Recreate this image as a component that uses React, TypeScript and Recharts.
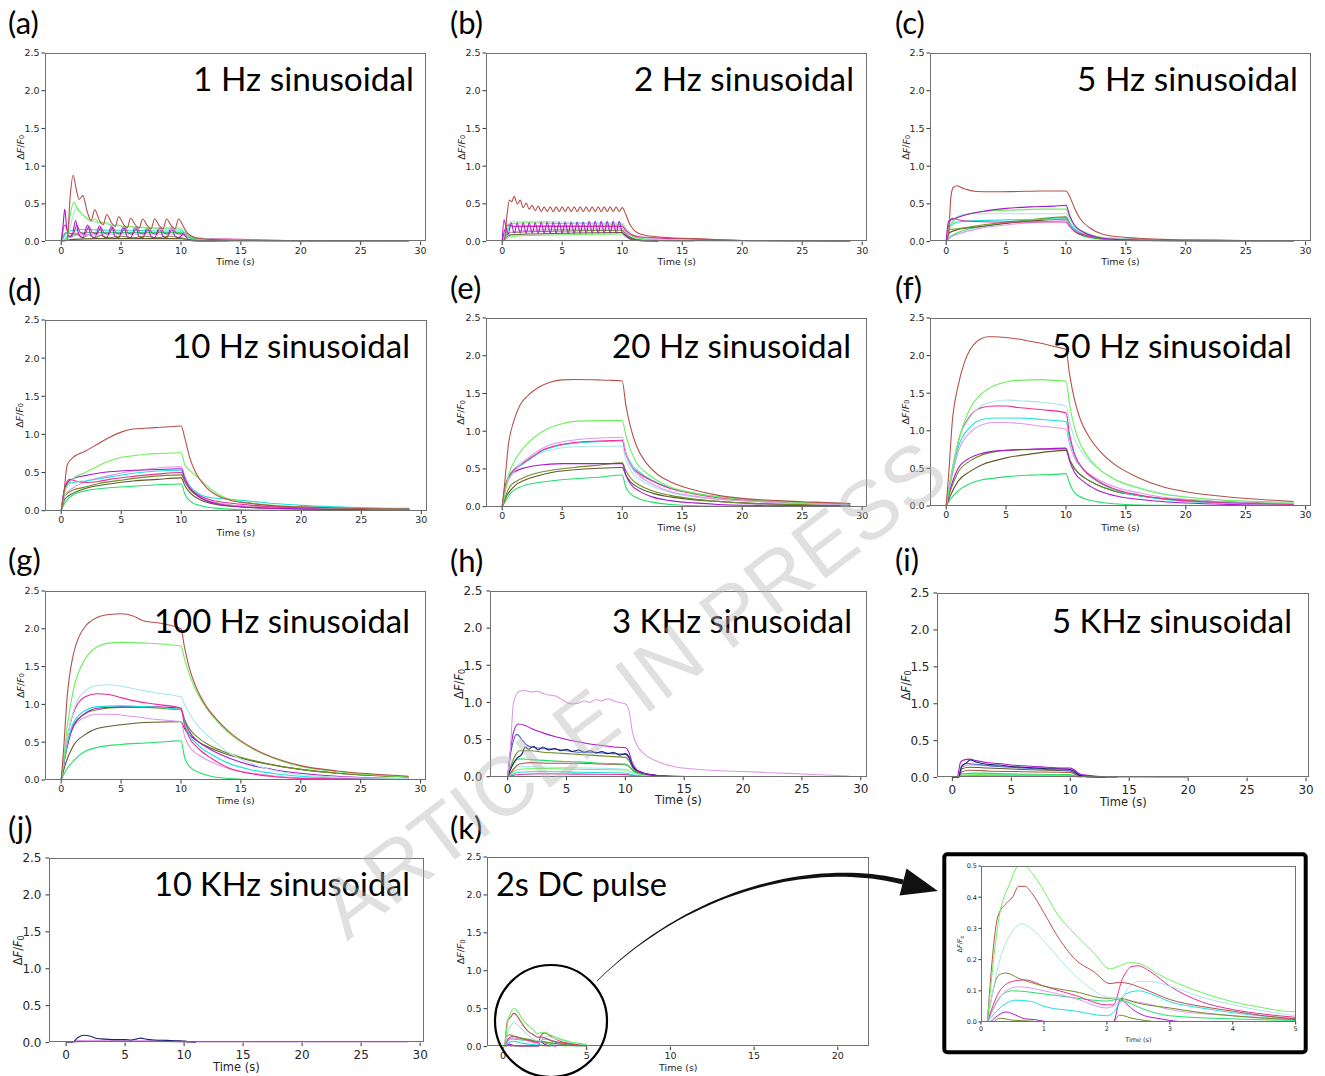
import React from "react";
import { LineChart, Line, XAxis, YAxis } from "recharts";

const C = {
  brown: "#b5504a",
  lgreen: "#6cf05a",
  pturq: "#a8e6e6",
  pink: "#f02a96",
  plum: "#de98e8",
  cyan: "#1ae2da",
  olive: "#6f8c24",
  dolive: "#5e5a2c",
  purple: "#a818d0",
  spring: "#22e06a",
  navy: "#1c2468",
  royal: "#4a66d0",
};

const X_TICKS = [0, 5, 10, 15, 20, 25, 30];
const K_TICKS = [0, 5, 10, 15, 20];
const IN_TICKS = [0, 1, 2, 3, 4, 5];
const Y_TICKS = [0, 0.5, 1, 1.5, 2, 2.5];
const IN_YTICKS = [0, 0.1, 0.2, 0.3, 0.4, 0.5];

// ---------- (a) 1 Hz ----------
const aBrown = [[0,0],[0.5,0.02],[0.75,0.6],[1,0.88],[1.25,0.7],[1.5,0.56],[1.8,0.61],[2.2,0.38],[2.5,0.28],[2.8,0.42],[3.2,0.28],[3.5,0.22],[3.8,0.36],[4.2,0.25],[4.5,0.2],[4.8,0.33],[5.2,0.23],[5.5,0.18],[5.8,0.31],[6.2,0.22],[6.5,0.18],[6.8,0.3],[7.2,0.21],[7.5,0.17],[7.8,0.3],[8.2,0.21],[8.5,0.17],[8.8,0.3],[9.2,0.21],[9.5,0.17],[9.8,0.3],[10.2,0.2],[10.5,0.12],[11,0.06],[11.5,0.04],[12.5,0.03],[14,0.02],[17,0.01],[20,0.005],[25,0.002],[29,0]];
const aLgreen = [[0,0],[0.5,0.05],[0.75,0.35],[1.05,0.52],[1.4,0.42],[1.8,0.36],[2.2,0.3],[2.5,0.27],[2.8,0.3],[3.2,0.25],[3.8,0.25],[4.2,0.21],[4.8,0.22],[5.2,0.19],[5.8,0.2],[6.2,0.18],[6.8,0.19],[7.2,0.17],[7.8,0.18],[8.2,0.16],[8.8,0.17],[9.2,0.16],[9.8,0.17],[10.3,0.12],[10.8,0.06],[11.5,0.03],[14,0.01],[29,0]];
const aPturq = [[0,0],[0.6,0.1],[1,0.35],[1.3,0.45],[1.8,0.35],[2.5,0.28],[3.5,0.24],[5,0.21],[7,0.19],[10,0.18],[10.5,0.12],[11,0.07],[12,0.04],[15,0.02],[20,0.01],[29,0]];
const aPurple = [[0,0],[0.15,0.2],[0.3,0.43],[0.45,0.2],[0.7,0.06],[0.95,0.1],[1.2,0.28],[1.45,0.1],[1.8,0.05],[2.2,0.22],[2.5,0.08],[2.8,0.05],[3.2,0.21],[3.5,0.07],[3.8,0.05],[4.2,0.2],[4.5,0.07],[4.8,0.05],[5.2,0.2],[5.5,0.07],[5.8,0.05],[6.2,0.2],[6.5,0.07],[6.8,0.05],[7.2,0.19],[7.5,0.07],[7.8,0.05],[8.2,0.19],[8.5,0.07],[8.8,0.05],[9.2,0.19],[9.5,0.07],[9.8,0.05],[10.2,0.1],[10.6,0.03],[11.5,0.01],[14,0.01],[20,0.005],[29,0]];
const aPink = [[0,0],[0.3,0.22],[0.6,0.12],[1,0.1],[1.3,0.22],[1.6,0.12],[2,0.1],[2.3,0.2],[2.6,0.12],[3,0.1],[3.3,0.19],[3.6,0.11],[4,0.1],[4.3,0.19],[4.6,0.11],[5,0.1],[5.3,0.19],[5.6,0.11],[6,0.1],[6.3,0.19],[6.6,0.11],[7,0.1],[7.3,0.19],[7.6,0.11],[8,0.1],[8.3,0.19],[8.6,0.11],[9,0.1],[9.3,0.19],[9.6,0.11],[10,0.1],[10.3,0.12],[10.8,0.06],[12,0.04],[15,0.03],[20,0.01],[29,0]];
const aCyan = [[0,0],[0.5,0.12],[1,0.15],[2,0.16],[4,0.15],[6,0.15],[8,0.14],[10,0.14],[10.5,0.08],[11.5,0.03],[14,0.01],[29,0]];
const aSpring = [[0,0],[0.5,0.05],[1,0.1],[2,0.12],[4,0.12],[7,0.12],[10,0.12],[10.5,0.06],[11.5,0.02],[14,0]];
const aOlive = [[0,0],[0.4,0.12],[0.8,0.06],[1.3,0.1],[1.8,0.05],[2.3,0.09],[2.8,0.05],[3.3,0.08],[4,0.05],[5,0.07],[6,0.05],[7,0.07],[8,0.05],[9,0.07],[10,0.05],[11,0.01],[14,0]];
const aPlum = [[0,0],[0.5,0.05],[1,0.08],[3,0.1],[6,0.1],[10,0.1],[10.5,0.06],[12,0.04],[16,0.02],[22,0.01],[29,0]];
const aDolive = [[0,0],[1,0.03],[3,0.04],[10,0.04],[11,0.01],[13,0]];

// ---------- (b) 2 Hz ----------
const bBrown = [[0,0],[0.2,0.03],[0.4,0.35],[0.6,0.55],[0.8,0.53],[1,0.6],[1.25,0.5],[1.5,0.55],[1.75,0.45],[2,0.51],[2.25,0.43],[2.5,0.48],[2.75,0.41],[3,0.47],[3.25,0.4],[3.5,0.46],[3.75,0.4],[4,0.46],[4.25,0.4],[4.5,0.46],[4.75,0.4],[5,0.46],[5.25,0.4],[5.5,0.46],[5.75,0.4],[6,0.46],[6.25,0.4],[6.5,0.46],[6.75,0.4],[7,0.46],[7.25,0.4],[7.5,0.46],[7.75,0.4],[8,0.46],[8.25,0.4],[8.5,0.46],[8.75,0.4],[9,0.46],[9.25,0.4],[9.5,0.46],[9.75,0.4],[10,0.45],[10.3,0.36],[10.6,0.24],[11,0.15],[11.5,0.1],[12.5,0.07],[14,0.05],[16,0.04],[18,0.025],[20,0.015],[25,0.005],[29,0]];
const bPurple = [[0,0],[0.15,0.29],[0.3,0.2],[0.5,0.1],[0.75,0.25],[1,0.11],[1.25,0.25],[1.5,0.11],[1.75,0.25],[2,0.11],[2.25,0.25],[2.5,0.11],[2.75,0.25],[3,0.11],[3.25,0.26],[3.5,0.11],[3.75,0.26],[4,0.11],[4.25,0.26],[4.5,0.11],[4.75,0.26],[5,0.11],[5.25,0.26],[5.5,0.11],[5.75,0.26],[6,0.11],[6.25,0.26],[6.5,0.11],[6.75,0.26],[7,0.11],[7.25,0.27],[7.5,0.11],[7.75,0.27],[8,0.11],[8.25,0.27],[8.5,0.11],[8.75,0.27],[9,0.11],[9.25,0.27],[9.5,0.11],[9.75,0.27],[10,0.12],[10.3,0.08],[10.7,0.03],[11.5,0.01],[13,0]];
const bPink = [[0,0],[0.2,0.15],[0.5,0.22],[1,0.2],[2,0.2],[4,0.2],[6,0.2],[8,0.2],[10,0.2],[10.3,0.15],[10.8,0.09],[11.5,0.06],[12.5,0.05],[14,0.04],[16,0.035],[18,0.025],[20,0.015],[24,0.008],[29,0]];
const bPturq = [[0,0],[0.3,0.15],[0.7,0.27],[2,0.27],[5,0.26],[8,0.25],[10,0.25],[10.3,0.18],[10.8,0.1],[11.5,0.06],[13,0.04],[16,0.03],[20,0.015],[29,0.005]];
const bLgreen = [[0,0],[0.3,0.12],[0.7,0.24],[2,0.25],[5,0.24],[10,0.23],[10.3,0.16],[10.8,0.08],[11.5,0.04],[13,0.02],[16,0.01],[29,0]];
const bCyan = [[0,0],[0.3,0.1],[0.7,0.2],[2,0.21],[5,0.21],[10,0.21],[10.3,0.15],[10.8,0.08],[11.5,0.04],[13,0.02],[17,0.01],[29,0]];
const bOlive = [[0,0],[0.3,0.08],[0.7,0.12],[2,0.13],[5,0.14],[10,0.15],[10.3,0.1],[10.8,0.05],[11.5,0.02],[13,0.01],[16,0]];
const bDolive = [[0,0],[0.3,0.05],[0.7,0.09],[2,0.1],[5,0.11],[10,0.12],[10.3,0.08],[10.8,0.04],[11.5,0.02],[13,0]];
const bSpring = [[0,0],[0.3,0.03],[0.7,0.07],[2,0.08],[5,0.09],[10,0.1],[10.3,0.06],[10.8,0.03],[11.5,0.01],[13,0]];
const bPlum = [[0,0],[0.3,0.05],[0.7,0.12],[2,0.15],[5,0.16],[10,0.17],[10.3,0.12],[10.8,0.08],[11.5,0.06],[13,0.05],[15,0.04],[18,0.02],[22,0.01],[29,0]];

// ---------- (c) 5 Hz ----------
const cBrown = [[0,0],[0.2,0.1],[0.4,0.6],[0.6,0.72],[0.9,0.74],[1.5,0.7],[2.5,0.665],[4,0.66],[6,0.665],[8,0.67],[10,0.67],[10.3,0.6],[10.7,0.45],[11.2,0.3],[12,0.18],[13,0.1],[14,0.07],[16,0.045],[18,0.03],[20,0.02],[24,0.015],[29,0.01]];
const cPurple = [[0,0],[0.2,0.27],[0.6,0.3],[1.5,0.35],[3,0.4],[5,0.44],[7,0.46],[9,0.47],[10,0.48],[10.3,0.35],[10.7,0.22],[11.5,0.12],[12.5,0.06],[14,0.03],[17,0.02],[22,0.01],[29,0.01]];
const cLgreen = [[0,0],[0.3,0.18],[0.8,0.3],[2,0.37],[4,0.41],[6,0.42],[8,0.43],[10,0.43],[10.3,0.33],[10.7,0.22],[11.5,0.13],[12.5,0.07],[14,0.03],[17,0.02],[29,0]];
const cPturq = [[0,0],[0.3,0.2],[1,0.34],[2,0.37],[4,0.37],[7,0.37],[10,0.37],[10.3,0.3],[10.7,0.2],[11.5,0.12],[13,0.06],[16,0.03],[20,0.02],[29,0.01]];
const cCyan = [[0,0],[0.3,0.2],[1,0.26],[3,0.28],[6,0.29],[10,0.3],[10.3,0.24],[10.7,0.17],[11.5,0.1],[13,0.05],[16,0.03],[22,0.01],[29,0]];
const cPink = [[0,0],[0.2,0.2],[0.5,0.31],[1,0.29],[2,0.27],[4,0.26],[7,0.26],[10,0.26],[10.3,0.2],[10.7,0.14],[11.5,0.09],[13,0.05],[16,0.03],[20,0.02],[25,0.015],[29,0.01]];
const cOlive = [[0,0],[0.3,0.16],[1,0.17],[3,0.22],[5,0.26],[7,0.29],[10,0.33],[10.3,0.25],[10.7,0.16],[11.5,0.09],[13,0.04],[16,0.02],[29,0]];
const cSpring = [[0,0],[0.3,0.06],[1,0.12],[3,0.2],[5,0.25],[7,0.28],[10,0.32],[10.3,0.22],[10.7,0.14],[11.5,0.07],[13,0.03],[16,0.01],[29,0]];
const cPlum = [[0,0],[0.3,0.05],[1,0.1],[3,0.18],[5,0.22],[7,0.25],[10,0.28],[10.3,0.22],[10.7,0.15],[11.5,0.09],[13,0.05],[16,0.03],[20,0.02],[29,0.01]];
const cDolive = [[0,0],[0.3,0.12],[1,0.16],[3,0.2],[5,0.24],[7,0.27],[10,0.3],[10.3,0.22],[10.7,0.14],[11.5,0.08],[13,0.04],[16,0.02],[29,0]];

// ---------- (d) 10 Hz ----------
const dBrown = [[0,0],[0.2,0.2],[0.5,0.6],[1,0.7],[2,0.78],[3,0.87],[4,0.96],[5,1.03],[6,1.07],[7,1.08],[8,1.09],[9,1.1],[10,1.11],[10.3,0.95],[10.7,0.7],[11.2,0.5],[12,0.32],[13,0.2],[14,0.14],[16,0.09],[18,0.06],[20,0.05],[23,0.035],[26,0.025],[29,0.02]];
const dLgreen = [[0,0],[0.3,0.25],[1,0.42],[2,0.5],[3,0.58],[4,0.65],[5,0.7],[6,0.72],[7,0.74],[8,0.75],[10,0.76],[10.3,0.6],[10.7,0.53],[11.5,0.42],[12.5,0.28],[13.5,0.18],[15,0.12],[17,0.08],[20,0.05],[23,0.035],[26,0.025],[29,0.02]];
const dPurple = [[0,0],[0.3,0.3],[0.6,0.38],[1,0.42],[2,0.46],[4,0.51],[6,0.53],[8,0.54],[10,0.55],[10.3,0.42],[10.7,0.3],[11.5,0.18],[13,0.09],[15,0.05],[18,0.03],[22,0.02],[29,0.02]];
const dCyan = [[0,0],[0.3,0.28],[0.6,0.35],[1,0.37],[2,0.39],[4,0.44],[6,0.49],[8,0.52],[10,0.53],[10.3,0.42],[10.7,0.32],[11.5,0.22],[12.5,0.17],[14,0.15],[16,0.12],[18,0.09],[20,0.07],[23,0.05],[26,0.035],[29,0.03]];
const dPink = [[0,0],[0.3,0.3],[0.7,0.41],[1.2,0.39],[2,0.37],[3,0.38],[4,0.41],[6,0.45],[8,0.48],[10,0.5],[10.3,0.4],[10.7,0.3],[11.5,0.2],[12.5,0.14],[14,0.1],[16,0.07],[18,0.05],[22,0.04],[26,0.03],[29,0.02]];
const dPlum = [[0,0],[0.3,0.2],[1,0.3],[2,0.38],[4,0.46],[6,0.52],[8,0.56],[10,0.58],[10.3,0.45],[10.7,0.33],[11.5,0.2],[13,0.1],[15,0.06],[18,0.04],[22,0.03],[29,0.02]];
const dOlive = [[0,0],[0.3,0.2],[1,0.27],[2,0.31],[3,0.35],[5,0.4],[7,0.44],[10,0.47],[10.3,0.38],[10.7,0.28],[11.5,0.18],[13,0.1],[15,0.06],[18,0.04],[22,0.03],[29,0.02]];
const dDolive = [[0,0],[0.3,0.15],[1,0.23],[2,0.29],[4,0.35],[6,0.39],[8,0.41],[10,0.43],[10.3,0.33],[10.7,0.24],[11.5,0.15],[13,0.08],[15,0.05],[18,0.03],[29,0.01]];
const dSpring = [[0,0],[0.3,0.1],[0.6,0.16],[1,0.21],[2,0.26],[4,0.3],[6,0.32],[8,0.34],[10,0.35],[10.3,0.22],[10.7,0.13],[11.5,0.07],[13,0.03],[16,0.01],[29,0]];

// ---------- (e) 20 Hz ----------
const eBrown = [[0,0],[0.2,0.3],[0.5,0.8],[1,1.15],[1.5,1.35],[2,1.45],[3,1.58],[4,1.65],[5,1.68],[6,1.685],[8,1.68],[9,1.675],[10,1.665],[10.3,1.35],[10.7,1.05],[11.2,0.8],[12,0.58],[13,0.42],[14,0.33],[16,0.22],[18,0.15],[20,0.11],[23,0.08],[26,0.06],[29,0.04]];
const eLgreen = [[0,0],[0.2,0.15],[0.5,0.4],[1,0.6],[2,0.82],[3,0.96],[4,1.05],[5,1.1],[6,1.13],[8,1.14],[10,1.14],[10.3,0.95],[10.7,0.75],[11.2,0.58],[12,0.45],[13,0.34],[14,0.26],[16,0.18],[18,0.13],[20,0.1],[23,0.07],[26,0.05],[29,0.04]];
const ePlum = [[0,0],[0.3,0.25],[1,0.47],[2,0.62],[3,0.74],[4,0.82],[5,0.86],[7,0.9],[10,0.92],[10.3,0.72],[10.7,0.55],[11.5,0.4],[12.5,0.3],[14,0.2],[16,0.14],[18,0.1],[20,0.08],[23,0.05],[26,0.04],[29,0.03]];
const ePink = [[0,0],[0.3,0.3],[0.7,0.44],[1.5,0.55],[2.5,0.66],[3.5,0.76],[4.5,0.81],[6,0.85],[8,0.87],[10,0.88],[10.3,0.7],[10.7,0.55],[11.5,0.43],[12.5,0.34],[14,0.24],[16,0.17],[18,0.12],[20,0.09],[23,0.07],[26,0.05],[29,0.04]];
const eCyan = [[0,0],[0.3,0.3],[0.7,0.43],[1.5,0.54],[2.5,0.65],[3.5,0.75],[4.5,0.8],[6,0.84],[8,0.86],[10,0.87],[10.3,0.72],[10.7,0.58],[11.5,0.45],[12.5,0.35],[14,0.25],[16,0.18],[18,0.13],[20,0.1],[23,0.07],[26,0.05],[29,0.03]];
const ePturq = [[0,0],[0.3,0.3],[1,0.5],[2,0.63],[3,0.7],[4,0.75],[5,0.78],[7,0.8],[10,0.8],[10.3,0.62],[10.7,0.48],[11.5,0.36],[12.5,0.27],[14,0.19],[16,0.13],[18,0.1],[20,0.08],[24,0.05],[29,0.03]];
const ePurple = [[0,0],[0.3,0.3],[0.7,0.42],[1,0.46],[2,0.52],[3,0.55],[5,0.57],[7,0.57],[10,0.57],[10.3,0.42],[10.7,0.3],[11.5,0.2],[12.5,0.13],[14,0.08],[16,0.05],[18,0.03],[20,0.02],[29,0.01]];
const eOlive = [[0,0],[0.3,0.15],[0.7,0.28],[1,0.32],[2,0.4],[3,0.45],[4,0.48],[6,0.52],[8,0.55],[10,0.58],[10.3,0.48],[10.7,0.38],[11.5,0.28],[12.5,0.21],[14,0.15],[16,0.1],[18,0.07],[20,0.05],[24,0.03],[29,0.02]];
const eDolive = [[0,0],[0.3,0.12],[1,0.27],[2,0.36],[3,0.41],[4,0.45],[6,0.49],[8,0.51],[10,0.52],[10.3,0.42],[10.7,0.33],[11.5,0.24],[12.5,0.18],[14,0.13],[16,0.09],[18,0.07],[20,0.05],[24,0.03],[29,0.02]];
const eSpring = [[0,0],[0.3,0.08],[0.7,0.18],[1,0.22],[2,0.29],[3,0.32],[4,0.34],[6,0.37],[8,0.39],[10,0.42],[10.3,0.26],[10.7,0.17],[11.5,0.1],[12.5,0.06],[14,0.03],[17,0.01],[29,0]];

// ---------- (f) 50 Hz ----------
const fBrown = [[0,0],[0.2,0.4],[0.5,1.1],[1,1.6],[1.5,1.9],[2,2.08],[2.5,2.18],[3,2.23],[3.5,2.25],[4,2.25],[5,2.24],[6,2.22],[7,2.19],[8,2.16],[9,2.12],[10,2.08],[10.3,1.75],[10.7,1.42],[11.2,1.15],[12,0.9],[13,0.7],[14,0.56],[16,0.38],[18,0.26],[20,0.19],[23,0.13],[26,0.09],[29,0.06]];
const fLgreen = [[0,0],[0.3,0.3],[1,0.85],[2,1.3],[3,1.5],[4,1.6],[5,1.65],[6,1.67],[8,1.68],[9,1.67],[10,1.66],[10.3,1.35],[10.7,1.05],[11.2,0.82],[12,0.62],[13,0.46],[14,0.36],[16,0.24],[18,0.16],[20,0.12],[23,0.08],[26,0.06],[29,0.05]];
const fPturq = [[0,0],[0.3,0.3],[1,0.85],[2,1.18],[3,1.34],[4,1.39],[5,1.41],[6,1.4],[8,1.38],[10,1.33],[10.3,1.12],[10.7,0.9],[11.5,0.68],[12.5,0.52],[14,0.36],[16,0.25],[18,0.17],[20,0.12],[23,0.08],[26,0.06],[29,0.04]];
const fPink = [[0,0],[0.3,0.3],[1,0.85],[2,1.2],[3,1.31],[4,1.33],[5,1.33],[6,1.31],[8,1.28],[10,1.24],[10.3,0.95],[10.7,0.7],[11.5,0.48],[12.5,0.35],[14,0.23],[16,0.15],[18,0.1],[20,0.07],[24,0.04],[29,0.02]];
const fCyan = [[0,0],[0.3,0.28],[1,0.78],[2,1.05],[3,1.15],[4,1.17],[5,1.17],[6,1.17],[8,1.15],[10,1.12],[10.3,0.9],[10.7,0.68],[11.5,0.47],[12.5,0.34],[14,0.22],[16,0.14],[18,0.09],[20,0.06],[24,0.04],[29,0.02]];
const fPlum = [[0,0],[0.3,0.25],[1,0.72],[2,0.98],[3,1.08],[4,1.11],[5,1.11],[6,1.1],[8,1.06],[10,1.02],[10.3,0.82],[10.7,0.64],[11.5,0.48],[12.5,0.37],[14,0.26],[16,0.18],[18,0.12],[20,0.09],[24,0.05],[29,0.03]];
const fPurple = [[0,0],[0.3,0.2],[1,0.5],[2,0.64],[3,0.7],[4,0.73],[5,0.74],[6,0.75],[8,0.76],[10,0.77],[10.3,0.6],[10.7,0.45],[11.5,0.32],[12.5,0.22],[14,0.14],[16,0.09],[18,0.06],[20,0.04],[24,0.02],[29,0.01]];
const fOlive = [[0,0],[0.3,0.18],[1,0.45],[2,0.6],[3,0.68],[4,0.72],[5,0.74],[7,0.75],[10,0.76],[10.3,0.62],[10.7,0.5],[11.5,0.38],[12.5,0.29],[14,0.2],[16,0.14],[18,0.1],[20,0.08],[24,0.05],[29,0.03]];
const fDolive = [[0,0],[0.3,0.12],[1,0.33],[2,0.46],[3,0.55],[4,0.6],[5,0.64],[7,0.69],[10,0.74],[10.3,0.62],[10.7,0.5],[11.5,0.38],[12.5,0.29],[14,0.2],[16,0.14],[18,0.1],[20,0.08],[24,0.05],[29,0.03]];
const fSpring = [[0,0],[0.3,0.08],[1,0.2],[2,0.3],[3,0.35],[4,0.37],[5,0.39],[7,0.41],[9,0.42],[10,0.43],[10.3,0.3],[10.7,0.18],[11.5,0.1],[12.5,0.06],[14,0.03],[17,0.01],[29,0]];

// ---------- (g) 100 Hz ----------
const gBrown = [[0,0],[0.2,0.4],[0.5,1.1],[1,1.65],[1.5,1.9],[2,2.03],[3,2.15],[4,2.19],[5,2.2],[6,2.17],[6.5,2.13],[7,2.1],[8,2.08],[9,2.05],[10,2.0],[10.3,1.75],[10.7,1.48],[11.2,1.25],[12,1.0],[13,0.8],[14,0.64],[16,0.42],[18,0.28],[20,0.19],[23,0.12],[26,0.08],[29,0.05]];
const gLgreen = [[0,0],[0.2,0.25],[0.5,0.7],[1,1.18],[2,1.6],[3,1.76],[4,1.81],[5,1.82],[7,1.81],[9,1.79],[10,1.77],[10.3,1.6],[10.7,1.4],[11.2,1.2],[12,0.98],[13,0.78],[14,0.62],[16,0.41],[18,0.27],[20,0.18],[23,0.11],[26,0.07],[29,0.04]];
const gPturq = [[0,0],[0.3,0.35],[1,0.9],[2,1.18],[3,1.25],[4,1.26],[5,1.24],[6,1.21],[8,1.15],[10,1.1],[10.3,1.0],[10.7,0.88],[11.5,0.7],[12.5,0.55],[14,0.36],[16,0.21],[18,0.12],[20,0.07],[23,0.04],[29,0.02]];
const gPink = [[0,0],[0.3,0.35],[1,0.88],[2,1.1],[3,1.14],[4,1.13],[5,1.09],[6,1.05],[8,1.0],[10,0.95],[10.3,0.72],[10.7,0.56],[11.5,0.41],[12.5,0.29],[14,0.16],[16,0.08],[18,0.04],[20,0.02],[29,0.01]];
const gCyan = [[0,0],[0.3,0.3],[1,0.75],[2,0.92],[3,0.97],[5,0.98],[7,0.97],[9,0.95],[10,0.93],[10.3,0.76],[10.7,0.6],[11.5,0.45],[12.5,0.34],[14,0.22],[16,0.13],[18,0.08],[20,0.05],[24,0.02],[29,0.01]];
const gPurple = [[0,0],[0.3,0.28],[1,0.7],[2,0.88],[3,0.95],[5,0.97],[7,0.97],[9,0.96],[10,0.95],[10.3,0.78],[10.7,0.64],[11.5,0.5],[12.5,0.4],[14,0.29],[16,0.19],[18,0.13],[20,0.09],[23,0.05],[26,0.03],[29,0.02]];
const gOlive = [[0,0],[0.3,0.3],[1,0.72],[2,0.88],[3,0.93],[5,0.96],[7,0.96],[9,0.94],[10,0.93],[10.3,0.8],[10.7,0.68],[11.5,0.55],[12.5,0.45],[14,0.35],[16,0.26],[18,0.19],[20,0.14],[23,0.09],[26,0.06],[29,0.04]];
const gPlum = [[0,0],[0.3,0.3],[1,0.7],[2,0.83],[3,0.87],[4,0.87],[6,0.84],[8,0.8],[10,0.77],[10.3,0.58],[10.7,0.44],[11.5,0.33],[12.5,0.24],[14,0.15],[16,0.09],[18,0.05],[20,0.03],[29,0.01]];
const gDolive = [[0,0],[0.3,0.18],[1,0.45],[2,0.6],[3,0.68],[5,0.73],[7,0.76],[10,0.77],[10.3,0.68],[10.7,0.6],[11.5,0.5],[12.5,0.42],[14,0.33],[16,0.25],[18,0.19],[20,0.14],[23,0.09],[26,0.06],[29,0.04]];
const gSpring = [[0,0],[0.3,0.1],[1,0.25],[2,0.38],[3,0.43],[5,0.47],[7,0.49],[9,0.51],[10,0.52],[10.3,0.3],[10.7,0.18],[11.5,0.1],[12.5,0.05],[14,0.02],[17,0.005],[29,0]];

// ---------- (h) 3 KHz ----------
const hPlum = [[0,0],[0.2,0.3],[0.5,1.0],[1,1.15],[1.5,1.16],[2,1.14],[2.5,1.15],[3,1.12],[3.5,1.1],[4,1.09],[4.5,1.05],[5,1.0],[5.5,0.98],[6,0.99],[6.5,1.02],[7,1.0],[7.5,1.04],[8,1.02],[8.5,1.05],[9,1.02],[9.5,1.0],[10,0.98],[10.3,0.9],[10.6,0.6],[11,0.42],[11.5,0.32],[12.5,0.22],[14,0.14],[16,0.1],[18,0.08],[20,0.07],[23,0.05],[26,0.03],[29,0.01]];
const hPurple = [[0,0],[0.2,0.3],[0.5,0.6],[0.9,0.71],[1.5,0.69],[2,0.65],[3,0.59],[4,0.54],[5,0.5],[6,0.47],[7,0.44],[8,0.42],[9,0.4],[10,0.39],[10.3,0.33],[10.6,0.18],[11,0.09],[11.5,0.05],[12.5,0.02],[14,0.01],[17,0]];
const hRoyal = [[0,0],[0.3,0.35],[0.8,0.57],[1.2,0.5],[1.6,0.43],[2,0.4],[3,0.38],[4,0.37],[5,0.35],[6,0.33],[7,0.33],[8,0.32],[9,0.31],[10,0.3],[10.3,0.25],[10.7,0.12],[11.5,0.05],[12.5,0.02],[14,0]];
const hNavy = [[0,0],[0.4,0.15],[0.8,0.25],[1.2,0.3],[1.5,0.4],[1.8,0.37],[2.2,0.41],[2.6,0.36],[3,0.4],[3.5,0.36],[4,0.38],[4.5,0.35],[5,0.37],[5.5,0.34],[6,0.36],[6.5,0.33],[7,0.35],[7.5,0.32],[8,0.34],[8.5,0.31],[9,0.33],[9.5,0.29],[10,0.31],[10.3,0.27],[10.7,0.12],[11.5,0.05],[12.5,0.02],[14,0]];
const hOlive = [[0,0],[0.3,0.15],[0.7,0.3],[1,0.35],[2,0.35],[3,0.33],[4,0.32],[5,0.31],[6,0.3],[7,0.29],[8,0.28],[9,0.27],[10,0.26],[10.3,0.22],[10.7,0.1],[11.5,0.04],[12.5,0.02],[14,0]];
const hSpring = [[0,0],[0.3,0.12],[0.7,0.22],[1,0.24],[2,0.23],[4,0.21],[6,0.2],[8,0.18],[10,0.17],[10.3,0.14],[10.7,0.07],[11.5,0.03],[13,0.01],[15,0]];
const hBrown = [[0,0],[0.3,0.06],[0.7,0.14],[1,0.17],[2,0.19],[4,0.18],[6,0.18],[8,0.17],[10,0.16],[10.3,0.14],[10.7,0.08],[11.5,0.04],[12.5,0.02],[14,0]];
const hLgreen = [[0,0],[0.5,0.07],[1,0.1],[3,0.11],[6,0.1],[10,0.09],[10.5,0.06],[11.5,0.03],[13,0.01],[15,0]];
const hCyan = [[0,0],[0.5,0.04],[1,0.06],[3,0.07],[6,0.06],[10,0.05],[10.5,0.03],[11.5,0.01],[13,0]];
const hPink = [[0,0],[0.5,0.02],[1,0.03],[3,0.04],[6,0.035],[10,0.03],[10.5,0.02],[11.5,0.01],[13,0]];
const hPturq = [[0,0],[0.5,0.1],[1,0.14],[3,0.13],[6,0.12],[10,0.1],[10.5,0.06],[11.5,0.02],[13,0]];

// ---------- (i) 5 KHz ----------
const iPurple = [[0,0],[0.4,0],[0.7,0.21],[1,0.24],[1.5,0.25],[2,0.23],[3,0.2],[4,0.19],[5,0.17],[6,0.16],[7,0.15],[8,0.14],[9,0.13],[10,0.13],[10.4,0.1],[10.8,0.05],[11.5,0.03],[13,0.01],[16,0.005],[20,0]];
const iNavy = [[0,0],[0.5,0],[0.8,0.15],[1.2,0.2],[1.5,0.24],[2,0.21],[2.5,0.19],[3,0.18],[4,0.17],[5,0.15],[6,0.14],[7,0.13],[8,0.12],[9,0.12],[10,0.11],[10.4,0.08],[10.8,0.03],[12,0.01],[14,0]];
const iRoyal = [[0,0],[0.5,0],[0.8,0.16],[1.2,0.19],[2,0.18],[4,0.15],[6,0.13],[8,0.11],[10,0.1],[10.5,0.05],[11.5,0.01],[13,0]];
const iPlum = [[0,0],[0.5,0],[0.8,0.14],[1.5,0.17],[3,0.16],[6,0.14],[10,0.12],[10.5,0.07],[11.5,0.02],[13,0]];
const iDolive = [[0,0],[0.5,0],[0.8,0.12],[1.5,0.14],[3,0.13],[6,0.11],[10,0.09],[10.5,0.05],[11.5,0.01],[13,0]];
const iBrown = [[0,0],[0.5,0],[0.8,0.08],[1.5,0.1],[3,0.09],[6,0.08],[10,0.07],[10.5,0.04],[11.5,0.01],[13,0]];
const iSpring = [[0,0],[0.5,0],[0.8,0.05],[2,0.06],[5,0.05],[10,0.04],[10.5,0.02],[12,0]];
const iLgreen = [[0,0],[0.5,0],[0.8,0.03],[2,0.04],[5,0.035],[10,0.03],[11,0]];
const iCyan = [[0,0],[0.5,0],[0.8,0.02],[2,0.03],[5,0.03],[10,0.02],[11,0]];

// ---------- (j) 10 KHz ----------
const jNavy = [[0,0],[0.5,0],[1,0.07],[1.5,0.1],[2,0.09],[2.5,0.06],[3,0.05],[4,0.04],[5,0.04],[5.5,0.035],[6,0.05],[6.3,0.06],[6.8,0.045],[7.5,0.035],[8.5,0.03],[9.5,0.025],[10,0.02],[10.5,0.01],[11,0]];
const jPlum = [[0,0],[0.5,0],[1,0.02],[2,0.03],[4,0.03],[6,0.025],[8,0.03],[10,0.02],[11,0],[29,0]];
const jOlive = [[0,0],[1,0.01],[3,0.02],[6,0.015],[10,0.01],[11,0]];
const jPurple = [[0,0],[1,0.02],[2,0.025],[5,0.02],[8,0.015],[10,0.01],[11,0]];

// ---------- (k) 2 s DC pulse (also the inset) ----------
const kLgreen = [[0.1,0],[0.3,0.35],[0.45,0.44],[0.6,0.5],[0.7,0.5],[0.8,0.48],[1,0.42],[1.2,0.35],[1.5,0.28],[1.8,0.22],[2.05,0.17],[2.2,0.18],[2.35,0.19],[2.5,0.188],[2.8,0.155],[3,0.135],[3.5,0.095],[4,0.065],[4.5,0.045],[4.8,0.035],[5,0.033]];
const kBrown = [[0.1,0],[0.27,0.34],[0.4,0.38],[0.5,0.4],[0.6,0.435],[0.7,0.435],[0.8,0.415],[1,0.35],[1.2,0.28],[1.5,0.2],[1.8,0.16],[2.05,0.123],[2.2,0.127],[2.35,0.123],[2.6,0.105],[3,0.072],[3.5,0.05],[4,0.035],[4.5,0.02],[5,0.01]];
const kPturq = [[0.1,0],[0.3,0.2],[0.5,0.29],[0.65,0.315],[0.8,0.3],[1,0.26],[1.3,0.19],[1.6,0.13],[2,0.08],[2.2,0.075],[2.35,0.11],[2.5,0.13],[2.7,0.13],[3,0.115],[3.5,0.08],[4,0.055],[4.5,0.035],[5,0.02]];
const kOlive = [[0.1,0],[0.28,0.15],[0.4,0.157],[0.6,0.14],[1,0.115],[1.5,0.097],[2,0.076],[2.2,0.076],[2.5,0.06],[3,0.045],[3.5,0.03],[4,0.02],[4.5,0.012],[5,0.008]];
const kPink = [[0.1,0],[0.3,0.1],[0.5,0.13],[0.7,0.135],[1,0.115],[1.5,0.085],[2,0.055],[2.1,0.055],[2.25,0.14],[2.4,0.178],[2.5,0.18],[2.7,0.16],[3,0.115],[3.5,0.065],[4,0.04],[4.5,0.025],[5,0.015]];
const kPlum = [[0.1,0],[0.4,0.1],[0.6,0.113],[1,0.1],[1.5,0.075],[2,0.045],[2.3,0.068],[2.6,0.06],[3,0.04],[4,0.02],[5,0.01]];
const kSpring = [[0.1,0],[0.35,0.09],[0.5,0.1],[1,0.09],[1.5,0.077],[2,0.067],[2.15,0.072],[2.3,0.065],[2.6,0.04],[3,0.02],[4,0.01],[5,0.005]];
const kCyan = [[0.1,0],[0.4,0.06],[0.55,0.07],[0.8,0.066],[1,0.05],[1.5,0.035],[2,0.02],[2.1,0.03],[2.3,0.09],[2.5,0.1],[2.7,0.09],[3,0.065],[3.5,0.045],[4,0.03],[5,0.01]];
const kPurple = [[0.15,0],[0.3,0.025],[0.4,0.032],[0.55,0.022],[0.7,0.01],[0.85,0.008],[1,0.002],[1.1,0],[2.1,0],[2.22,0.075],[2.3,0.06],[2.45,0.035],[2.6,0.02],[2.8,0.012],[3,0.005],[3.2,0]];
const kDolive = [[0.2,0],[0.3,0.012],[0.5,0.006],[0.8,0.003],[1,0],[2.1,0],[2.2,0.022],[2.4,0.012],[2.6,0.005],[2.8,0]];

type Tr = [number[][], string];

const rows = (pts: number[][]) => pts.map(([t, v]) => ({ t, v }));

function YLab({ x, y, fs }: { x: number; y: number; fs: number }) {
  return (
    <text
      x={x}
      y={y}
      transform={`rotate(-90 ${x} ${y})`}
      textAnchor="middle"
      dominantBaseline="central"
      fontSize={fs}
      fill="#262626"
      fontFamily="DejaVu Sans, sans-serif"
    >
      Δ<tspan fontStyle="italic">F</tspan>/<tspan fontStyle="italic">F</tspan>
      <tspan fontSize={fs * 0.7} dy={fs * 0.25}>0</tspan>
    </text>
  );
}

function Panel(p: any) {
  const { box, xd, xt, yd, yt, tr, fs = 9.5, lfs = 9.5, yld = 25, xlb = 24, tm = 2, ts = 3.5, sw = 1.1, xfmt } = p;
  const [L, T, R, B] = box;
  const pw = R - L;
  const ph = B - T;
  const yW = 52;
  const xH = 40;
  const mt = 12;
  const mr = 8;
  const W = yW + pw + mr;
  const H = mt + ph + xH;
  const tickStyle = { fontSize: fs, fill: "#262626", fontFamily: "DejaVu Sans, sans-serif" };
  return (
    <div style={{ position: "absolute", left: L - yW, top: T - mt, width: W, height: H }}>
      <LineChart width={W} height={H} margin={{ top: mt, right: mr, bottom: 0, left: 0 }}>
        <XAxis
          type="number"
          dataKey="t"
          domain={xd}
          ticks={xt}
          allowDataOverflow
          interval={0}
          height={xH}
          tick={tickStyle}
          tickSize={ts}
          tickMargin={tm}
          axisLine={false}
          tickLine={{ stroke: "#333" }}
          tickFormatter={xfmt || ((v: number) => String(v))}
          label={{
            value: "Time (s)",
            position: "insideBottom",
            offset: xH - xlb,
            style: { fontSize: lfs, fill: "#262626", fontFamily: "DejaVu Sans, sans-serif" },
          }}
        />
        <YAxis
          type="number"
          domain={yd}
          ticks={yt}
          allowDataOverflow
          interval={0}
          width={yW}
          tick={tickStyle}
          tickSize={ts}
          tickMargin={tm}
          axisLine={false}
          tickLine={{ stroke: "#333" }}
          tickFormatter={(v: number) => v.toFixed(1)}
          label={() => <YLab x={yW - yld} y={mt + ph / 2} fs={lfs} />}
        />
        {tr.map(([pts, c]: Tr, i: number) => (
          <Line
            key={i}
            data={rows(pts)}
            dataKey="v"
            type="monotone"
            stroke={c}
            strokeWidth={sw}
            dot={false}
            activeDot={false}
            isAnimationActive={false}
          />
        ))}
      </LineChart>
      <div
        style={{
          position: "absolute",
          left: yW,
          top: mt,
          width: pw,
          height: ph,
          border: "1px solid #707070",
          boxSizing: "border-box",
          pointerEvents: "none",
        }}
      />
    </div>
  );
}

const XD = [-1.35, 30.45];
const YD = [0, 2.5];

const trA: Tr[] = [[aDolive, C.dolive], [aOlive, C.olive], [aSpring, C.spring], [aPlum, C.plum], [aCyan, C.cyan], [aPink, C.pink], [aPurple, C.purple], [aPturq, C.pturq], [aLgreen, C.lgreen], [aBrown, C.brown]];
const trB: Tr[] = [[bSpring, C.lgreen], [bDolive, C.dolive], [bOlive, C.olive], [bPlum, C.plum], [bCyan, C.cyan], [bLgreen, C.lgreen], [bPturq, C.pturq], [bPink, C.pink], [bPurple, C.purple], [bBrown, C.brown]];
const trC: Tr[] = [[cSpring, C.spring], [cDolive, C.dolive], [cOlive, C.olive], [cPlum, C.plum], [cCyan, C.cyan], [cPink, C.pink], [cPturq, C.pturq], [cLgreen, C.lgreen], [cPurple, C.purple], [cBrown, C.brown]];
const trD: Tr[] = [[dSpring, C.spring], [dDolive, C.dolive], [dOlive, C.olive], [dPlum, C.plum], [dPink, C.pink], [dCyan, C.cyan], [dPurple, C.purple], [dLgreen, C.lgreen], [dBrown, C.brown]];
const trE: Tr[] = [[eSpring, C.spring], [eDolive, C.dolive], [eOlive, C.olive], [ePurple, C.purple], [ePturq, C.pturq], [eCyan, C.cyan], [ePink, C.pink], [ePlum, C.plum], [eLgreen, C.lgreen], [eBrown, C.brown]];
const trF: Tr[] = [[fSpring, C.spring], [fDolive, C.dolive], [fOlive, C.olive], [fPurple, C.purple], [fPlum, C.plum], [fCyan, C.cyan], [fPink, C.pink], [fPturq, C.pturq], [fLgreen, C.lgreen], [fBrown, C.brown]];
const trG: Tr[] = [[gSpring, C.spring], [gDolive, C.dolive], [gPlum, C.plum], [gOlive, C.olive], [gPurple, C.purple], [gCyan, C.cyan], [gPink, C.pink], [gPturq, C.pturq], [gLgreen, C.lgreen], [gBrown, C.brown]];
const trH: Tr[] = [[hPink, C.pink], [hCyan, C.cyan], [hLgreen, C.lgreen], [hPturq, C.pturq], [hBrown, C.brown], [hSpring, C.spring], [hOlive, C.olive], [hRoyal, C.royal], [hNavy, C.navy], [hPurple, C.purple], [hPlum, C.plum]];
const trI: Tr[] = [[iCyan, C.cyan], [iLgreen, C.lgreen], [iSpring, C.spring], [iBrown, C.brown], [iDolive, C.dolive], [iPlum, C.plum], [iRoyal, C.royal], [iNavy, C.navy], [iPurple, C.purple]];
const trJ: Tr[] = [[jOlive, C.olive], [jPurple, C.purple], [jPlum, C.plum], [jNavy, C.navy]];
const trK: Tr[] = [[kDolive, C.olive], [kPurple, C.purple], [kCyan, C.cyan], [kSpring, C.spring], [kPlum, C.plum], [kPink, C.pink], [kOlive, C.olive], [kPturq, C.pturq], [kBrown, C.brown], [kLgreen, C.lgreen]];

const TITLES: [string, number, number, number][] = [
  ["1 Hz sinusoidal", 193, 91, 221],
  ["2 Hz sinusoidal", 634, 91, 220],
  ["5 Hz sinusoidal", 1077, 91, 221],
  ["10 Hz sinusoidal", 172, 358, 238],
  ["20 Hz sinusoidal", 612, 358, 239],
  ["50 Hz sinusoidal", 1052, 358, 240],
  ["100 Hz sinusoidal", 154, 633, 256],
  ["3 KHz sinusoidal", 612, 633, 240],
  ["5 KHz sinusoidal", 1052, 633, 240],
  ["10 KHz sinusoidal", 154, 896, 256],
  ["2s DC pulse", 496, 896, 171],
];

const LETTERS: [string, number, number][] = [
  ["(a)", 8, 34], ["(b)", 450, 34], ["(c)", 895, 34],
  ["(d)", 8, 301], ["(e)", 450, 299], ["(f)", 895, 299],
  ["(g)", 8, 571], ["(h)", 450, 572], ["(i)", 895, 571],
  ["(j)", 8, 839], ["(k)", 450, 839],
];

function arrowShape() {
  const P = [[597, 981], [700, 880], [825, 862], [903, 882]];
  const at = (t: number) => {
    const u = 1 - t;
    const a = u * u * u, b = 3 * u * u * t, c = 3 * u * t * t, d = t * t * t;
    return [a * P[0][0] + b * P[1][0] + c * P[2][0] + d * P[3][0], a * P[0][1] + b * P[1][1] + c * P[2][1] + d * P[3][1]];
  };
  const der = (t: number) => {
    const u = 1 - t;
    const dx = 3 * u * u * (P[1][0] - P[0][0]) + 6 * u * t * (P[2][0] - P[1][0]) + 3 * t * t * (P[3][0] - P[2][0]);
    const dy = 3 * u * u * (P[1][1] - P[0][1]) + 6 * u * t * (P[2][1] - P[1][1]) + 3 * t * t * (P[3][1] - P[2][1]);
    const n = Math.hypot(dx, dy);
    return [dx / n, dy / n];
  };
  const left: string[] = [];
  const right: string[] = [];
  const N = 40;
  for (let i = 0; i <= N; i++) {
    const t = i / N;
    const [x, y] = at(t);
    const [dx, dy] = der(t);
    const w = 0.25 + 2.3 * t;
    left.push(`${(x - dy * w).toFixed(2)},${(y + dx * w).toFixed(2)}`);
    right.push(`${(x + dy * w).toFixed(2)},${(y - dx * w).toFixed(2)}`);
  }
  const body = "M" + left.join(" L") + " L" + right.reverse().join(" L") + " Z";
  const [ex, ey] = at(1);
  const [dx, dy] = der(1);
  const tip = [ex + dx * 36, ey + dy * 36];
  const head = `M${ex - dy * 14},${ey + dx * 14} L${tip[0]},${tip[1]} L${ex + dy * 14},${ey - dx * 14} Z`;
  return { body, head };
}

export default function App() {
  const arrow = arrowShape();
  const big = { fs: 12, lfs: 11.5, tm: 4 };
  return (
    <div style={{ position: "absolute", left: 0, top: 0, width: 1325, height: 1076, background: "#fff", overflow: "hidden" }}>
      <Panel box={[45, 52.7, 426, 241.3]} xd={XD} xt={X_TICKS} yd={YD} yt={Y_TICKS} tr={trA} yld={25} xlb={23.7} />
      <Panel box={[485.7, 52.7, 867.3, 241.3]} xd={XD} xt={X_TICKS} yd={YD} yt={Y_TICKS} tr={trB} yld={25} xlb={23.7} />
      <Panel box={[930, 52.7, 1311, 241.3]} xd={XD} xt={X_TICKS} yd={YD} yt={Y_TICKS} tr={trC} yld={24.3} xlb={23.7} />
      <Panel box={[45, 320, 426.7, 510.7]} xd={XD} xt={X_TICKS} yd={YD} yt={Y_TICKS} tr={trD} yld={26} xlb={25.3} />
      <Panel box={[485.7, 318.3, 867.3, 507]} xd={XD} xt={X_TICKS} yd={YD} yt={Y_TICKS} tr={trE} yld={25.7} xlb={24} />
      <Panel box={[930, 318.3, 1311, 506.3]} xd={XD} xt={X_TICKS} yd={YD} yt={Y_TICKS} tr={trF} yld={25} xlb={24.7} />
      <Panel box={[45, 590.7, 426, 779.7]} xd={XD} xt={X_TICKS} yd={YD} yt={Y_TICKS} tr={trG} yld={25} xlb={23.9} />
      <Panel box={[490, 591, 866.7, 776.7]} xd={[-1.5, 30.5]} xt={X_TICKS} yd={YD} yt={Y_TICKS} tr={trH} yld={31} xlb={27.5} {...big} />
      <Panel box={[936.7, 592.7, 1309.3, 777.3]} xd={[-1.3, 30.3]} xt={X_TICKS} yd={YD} yt={Y_TICKS} tr={trI} yld={31.5} xlb={28.6} {...big} />
      <Panel box={[49.3, 857.7, 424, 1042.3]} xd={[-1.45, 30.3]} xt={X_TICKS} yd={YD} yt={Y_TICKS} tr={trJ} yld={30.5} xlb={28.6} {...big} />
      <Panel box={[486.7, 856.7, 869.3, 1046.3]} xd={[-0.96, 21.9]} xt={K_TICKS} yd={YD} yt={Y_TICKS} tr={trK} yld={26.7} xlb={24.7} />
      <Panel box={[981, 866, 1295.7, 1022]} xd={[0, 5]} xt={IN_TICKS} yd={[0, 0.5]} yt={IN_YTICKS} tr={trK} fs={6.5} lfs={6.5} yld={21} xlb={19.6} ts={2.5} tm={1.5} sw={1} />

      <svg width={1325} height={1076} style={{ position: "absolute", left: 0, top: 0, pointerEvents: "none" }}>
        {TITLES.map(([s, x, y, w]) => (
          <text key={s} x={x} y={y} fontSize={33} fontFamily="Lato, 'Noto Sans', sans-serif" fill="#000" textLength={w} lengthAdjust="spacingAndGlyphs">
            {s}
          </text>
        ))}
        {LETTERS.map(([s, x, y]) => (
          <text key={s} x={x} y={y} fontSize={31} fontFamily="Lato, 'Noto Sans', sans-serif" fill="#000">
            {s}
          </text>
        ))}
        <circle cx={551} cy={1021} r={56} fill="none" stroke="#000" strokeWidth={2.2} />
        <path d={arrow.body} fill="#111" />
        <path d={arrow.head} fill="#111" />
        <rect x={944.3} y={854.3} width={361.4} height={198} rx={3} fill="none" stroke="#000" strokeWidth={4} />
        <text
          x={637}
          y={716}
          transform="rotate(-37.2 637 695)"
          textAnchor="middle"
          fontSize={83}
          fontFamily="'Liberation Sans', Arial, sans-serif"
          fill="#b4b4b4"
          fillOpacity={0.42}
          textLength={760}
          lengthAdjust="spacingAndGlyphs"
        >
          ARTICLE IN PRESS
        </text>
      </svg>
    </div>
  );
}
